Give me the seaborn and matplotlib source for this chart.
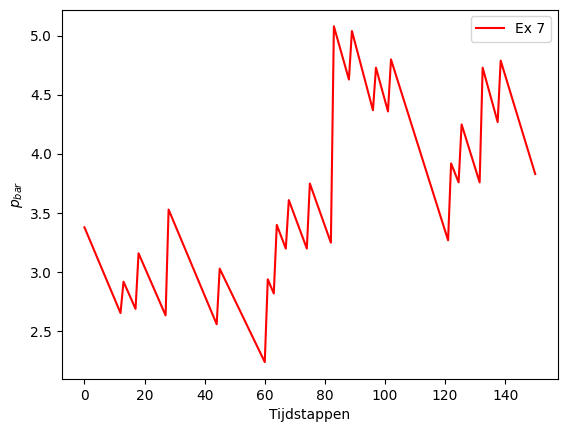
import matplotlib
matplotlib.use('Agg')
import matplotlib.pyplot as plt
import seaborn as sns
import pandas as pd

# breakpoints
tijd = [0, 12, 13, 17, 18, 27, 28, 44, 45, 60, 61, 63, 64, 67, 68, 74, 75, 82, 83, 85, 88,
        89, 96, 97, 101, 102, 121, 122, 124.5, 125.5, 131.5, 132.5, 137.5, 138.5, 150]
p_bar = [3.38, 2.655, 2.92, 2.69, 3.16, 2.635, 3.53, 2.56, 3.03, 2.24, 2.94, 2.82, 3.40, 3.20,
         3.61, 3.20, 3.75, 3.25, 5.08, 4.90, 4.63, 5.04, 4.37, 4.73, 4.36, 4.80, 3.27, 3.92,
         3.76, 4.25, 3.76, 4.73, 4.27, 4.79, 3.83]

df = pd.DataFrame({'Tijdstappen': tijd, 'p': p_bar})

fig, ax = plt.subplots(figsize=(5.68, 4.32), dpi=100)
sns.lineplot(x='Tijdstappen', y='p', data=df, color='red', label='Ex 7', ax=ax)
ax.set_xlabel('Tijdstappen')
ax.set_ylabel('$p_{bar}$')
ax.legend(loc='upper right')
plt.subplots_adjust(left=0.109, right=0.982, top=0.978, bottom=0.123)
plt.savefig('out.png')
